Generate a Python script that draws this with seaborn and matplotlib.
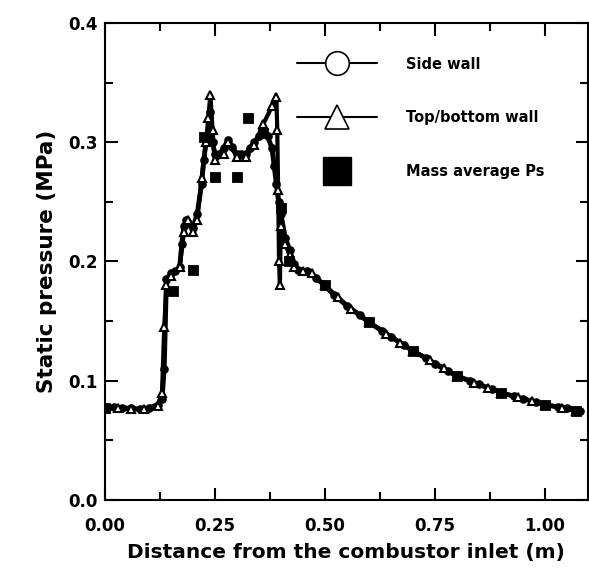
import numpy as np
import pandas as pd
import matplotlib
matplotlib.use("Agg")
import matplotlib.pyplot as plt
from matplotlib.lines import Line2D
from matplotlib.ticker import MultipleLocator
import seaborn as sns

# side wall static pressure (circles)
side_x = [0.00, 0.02, 0.04, 0.06, 0.08, 0.10, 0.12, 0.13, 0.135, 0.14, 0.15, 0.16, 0.17,
          0.175, 0.18, 0.185, 0.19, 0.20, 0.21, 0.22, 0.225, 0.23, 0.235, 0.24, 0.245,
          0.25, 0.26, 0.27, 0.28, 0.29, 0.30, 0.31, 0.32, 0.33, 0.34, 0.35, 0.36, 0.37,
          0.38, 0.385, 0.39, 0.395, 0.40, 0.41, 0.42, 0.43, 0.44, 0.46, 0.48, 0.50, 0.52,
          0.55, 0.58, 0.60, 0.63, 0.65, 0.68, 0.70, 0.73, 0.75, 0.78, 0.80, 0.83, 0.85,
          0.88, 0.90, 0.93, 0.95, 0.98, 1.00, 1.03, 1.05, 1.08]
side_p = [0.078, 0.078, 0.077, 0.077, 0.076, 0.077, 0.080, 0.085, 0.110, 0.185, 0.190, 0.192, 0.195,
          0.215, 0.230, 0.235, 0.232, 0.228, 0.240, 0.265, 0.285, 0.300, 0.305, 0.325, 0.300,
          0.290, 0.290, 0.295, 0.302, 0.296, 0.290, 0.290, 0.290, 0.295, 0.300, 0.305, 0.308, 0.305,
          0.295, 0.280, 0.265, 0.250, 0.240, 0.220, 0.210, 0.198, 0.193, 0.192, 0.186, 0.180, 0.172,
          0.163, 0.155, 0.149, 0.142, 0.137, 0.130, 0.125, 0.119, 0.114, 0.108, 0.104, 0.100, 0.097,
          0.093, 0.090, 0.087, 0.085, 0.082, 0.080, 0.078, 0.077, 0.075]

# top/bottom wall static pressure (triangles)
top_x = [0.00, 0.03, 0.06, 0.09, 0.12, 0.13, 0.135, 0.14, 0.15, 0.17, 0.18, 0.19, 0.20,
         0.21, 0.22, 0.23, 0.235, 0.24, 0.245, 0.25, 0.27, 0.28, 0.30, 0.32, 0.34, 0.36,
         0.38, 0.39, 0.392, 0.394, 0.396, 0.398, 0.40, 0.41, 0.42, 0.43, 0.45, 0.47, 0.50,
         0.53, 0.56, 0.60, 0.64, 0.67, 0.70, 0.74, 0.77, 0.80, 0.84, 0.87, 0.90, 0.94,
         0.97, 1.00, 1.04, 1.07]
top_p = [0.076, 0.077, 0.076, 0.076, 0.079, 0.090, 0.145, 0.180, 0.188, 0.195, 0.225, 0.235, 0.225,
         0.235, 0.270, 0.300, 0.320, 0.340, 0.310, 0.285, 0.290, 0.300, 0.288, 0.288, 0.298, 0.315,
         0.330, 0.338, 0.310, 0.260, 0.200, 0.180, 0.230, 0.215, 0.205, 0.195, 0.192, 0.190, 0.180,
         0.170, 0.160, 0.149, 0.139, 0.132, 0.125, 0.117, 0.111, 0.104, 0.098, 0.094, 0.090, 0.086,
         0.083, 0.080, 0.077, 0.075]

# mass averaged static pressure (squares)
mass_x = [0.00, 0.154, 0.201, 0.226, 0.250, 0.301, 0.326, 0.36, 0.40, 0.419,
          0.50, 0.60, 0.70, 0.80, 0.90, 1.00, 1.07]
mass_p = [0.077, 0.175, 0.193, 0.304, 0.271, 0.271, 0.320, 0.308, 0.245, 0.200,
          0.180, 0.149, 0.125, 0.104, 0.090, 0.080, 0.075]

sns.set_style("ticks")
plt.rcParams['font.family'] = ['DejaVu Sans']
plt.rcParams['font.weight'] = 'bold'
for k in ['text.color', 'axes.labelcolor', 'xtick.color', 'ytick.color', 'axes.edgecolor']:
    plt.rcParams[k] = 'black'

fig = plt.figure(figsize=(5.89, 5.74), dpi=100)
ax = fig.add_axes([0.178, 0.129, 0.82, 0.831])

df_side = pd.DataFrame({'x': side_x, 'p': side_p})
df_top = pd.DataFrame({'x': top_x, 'p': top_p})
df_mass = pd.DataFrame({'x': mass_x, 'p': mass_p})

sns.lineplot(data=df_side, x='x', y='p', sort=False, estimator=None, color='black',
             linewidth=3.5, marker='o', markersize=5, markerfacecolor='black',
             markeredgecolor='black', markeredgewidth=1.2, ax=ax)
sns.lineplot(data=df_top, x='x', y='p', sort=False, estimator=None, color='black',
             linewidth=3, marker='^', markersize=5.5, markerfacecolor='white',
             markeredgecolor='black', markeredgewidth=1.5, ax=ax)
sns.scatterplot(data=df_mass, x='x', y='p', marker='s', s=55, color='black',
                edgecolor='black', ax=ax, zorder=3)

ax.set_xlim(0, 1.098)
ax.set_ylim(0, 0.4)
ax.xaxis.set_minor_locator(MultipleLocator(0.125))
ax.yaxis.set_minor_locator(MultipleLocator(0.05))
ax.set_xticks([0, 0.25, 0.5, 0.75, 1.0])
ax.set_xticklabels(['0.00', '0.25', '0.50', '0.75', '1.00'])
ax.set_yticks([0, 0.1, 0.2, 0.3, 0.4])
ax.set_yticklabels(['0.0', '0.1', '0.2', '0.3', '0.4'])
ax.tick_params(which='both', direction='in', top=True, right=True, width=1.5)
ax.tick_params(which='major', length=9, labelsize=12)
ax.tick_params(axis='x', which='major', pad=12)
ax.tick_params(axis='y', which='major', pad=5)
ax.tick_params(which='minor', length=6)
for s in ax.spines.values():
    s.set_linewidth(1.5)
for lab in ax.get_xticklabels() + ax.get_yticklabels():
    lab.set_fontweight('bold')

ax.set_xlabel('Distance from the combustor inlet (m)', fontsize=14.5, fontweight='bold', labelpad=6)
ax.set_ylabel('Static pressure (MPa)', fontsize=15.5, fontweight='bold', labelpad=8)

handles = [
    Line2D([], [], color='black', linewidth=1.5, marker='o', markersize=17,
           markerfacecolor='white', markeredgecolor='black', markeredgewidth=1.2),
    Line2D([], [], color='black', linewidth=1.5, marker='^', markersize=17,
           markerfacecolor='white', markeredgecolor='black', markeredgewidth=1.2),
    Line2D([], [], color='black', linestyle='none', marker='s', markersize=20),
]
labels = ['Side wall', 'Top/bottom wall', 'Mass average Ps']
ax.legend(handles, labels, loc='upper left', bbox_to_anchor=(0.37, 0.957), frameon=False,
          prop={'size': 10.5, 'weight': 'bold'}, handlelength=5.5, handletextpad=2.0,
          labelspacing=2.65)

fig.savefig('out.png', dpi=100)
